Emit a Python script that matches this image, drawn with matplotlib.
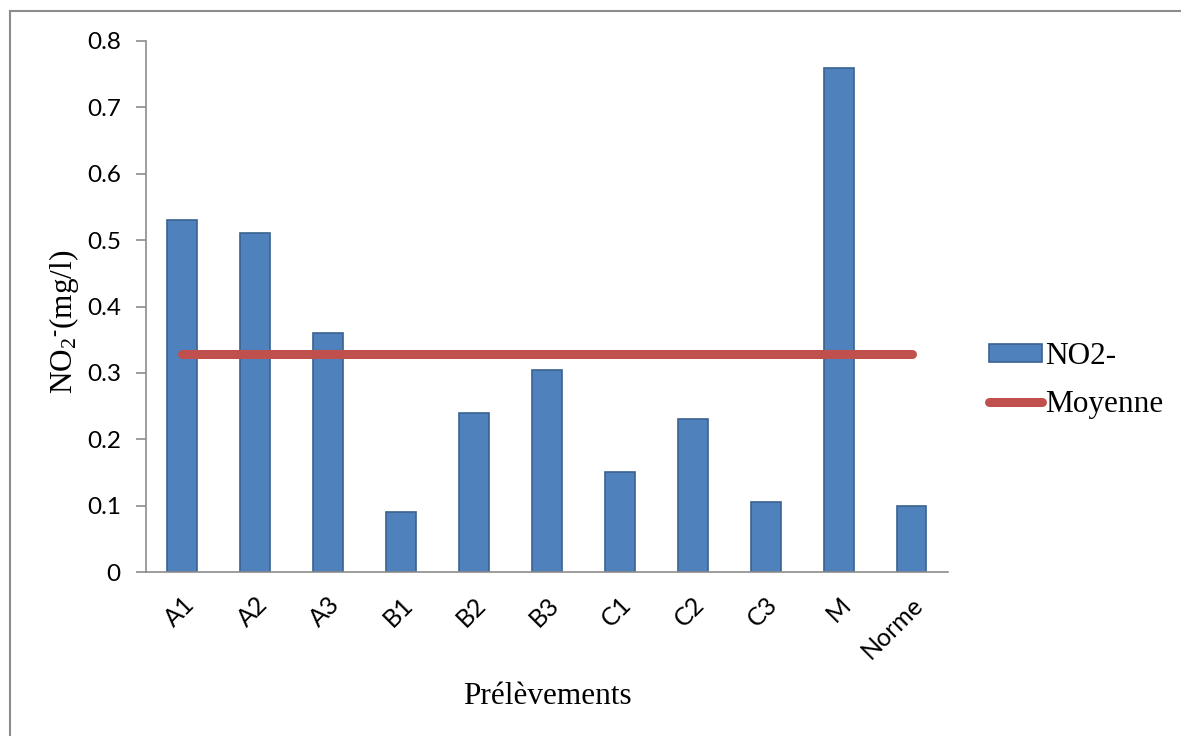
import numpy as np
import matplotlib.pyplot as plt
from matplotlib.lines import Line2D

plt.rcParams['mathtext.fontset'] = 'custom'
plt.rcParams['mathtext.rm'] = 'Liberation Serif'
plt.rcParams['mathtext.it'] = 'Liberation Serif:italic'

# données
prelevements = ['A1', 'A2', 'A3', 'B1', 'B2', 'B3', 'C1', 'C2', 'C3', 'M', 'Norme']
no2 = [0.53, 0.51, 0.36, 0.09, 0.24, 0.305, 0.15, 0.23, 0.105, 0.76, 0.10]
moyenne = [0.328] * len(prelevements)

fig = plt.figure(figsize=(11.81, 7.36), dpi=100)
ax = fig.add_axes([0.1235, 0.2228, 0.6792, 0.7215])

x = np.arange(len(prelevements))
barres = ax.bar(x, no2, width=0.41, color='#4F81BD', edgecolor='#3A6291',
                linewidth=1.2, label='NO2-', zorder=2)
ligne, = ax.plot(x, moyenne, color='#C0504D', linewidth=6.5,
                 solid_capstyle='round', label='Moyenne', zorder=3)

ax.set_xlim(-0.5, len(prelevements) - 0.5)
ax.set_ylim(0, 0.8)
ax.set_yticks(np.arange(0, 0.81, 0.1))
ax.set_yticklabels(['0'] + ['%.1f' % v for v in np.arange(0.1, 0.81, 0.1)],
                   fontsize=17.5, family='Lato')
ax.set_xticks(x)
ax.set_xticklabels(prelevements, rotation=45, ha='right', rotation_mode='anchor',
                   fontsize=18, family='Lato')
ax.tick_params(axis='x', length=0, pad=15)
ax.tick_params(axis='y', length=7, width=1.2, color='#8C8C8C', pad=11)

for s in ['top', 'right']:
    ax.spines[s].set_visible(False)
for s in ['left', 'bottom']:
    ax.spines[s].set_color('#8C8C8C')
    ax.spines[s].set_linewidth(1.2)

ax.set_xlabel('Prélèvements', fontsize=22.5, family='Liberation Serif')
ax.set_ylabel(r'NO$_2$$^{\text{-}}$(mg/l)', fontsize=22.5, family='Liberation Serif')
ax.xaxis.set_label_coords(0.5, -0.207)
ax.yaxis.set_label_coords(-0.081, 0.471)

ax.legend([barres, ligne], ['NO2-', 'Moyenne'], loc='center left',
          bbox_to_anchor=(1.032, 0.36), frameon=False, borderpad=0,
          prop={'family': 'Liberation Serif', 'size': 22.5},
          handlelength=1.7, handleheight=0.5, handletextpad=0.1,
          labelspacing=0.6)

# cadre gris en haut et à gauche
fig.add_artist(Line2D([10 / 1181, 1], [1 - 11 / 736, 1 - 11 / 736],
                      color='#8C8C8C', linewidth=1.5))
fig.add_artist(Line2D([10 / 1181, 10 / 1181], [0, 1 - 11 / 736],
                      color='#8C8C8C', linewidth=1.5))

fig.savefig('out.png', dpi=100)
